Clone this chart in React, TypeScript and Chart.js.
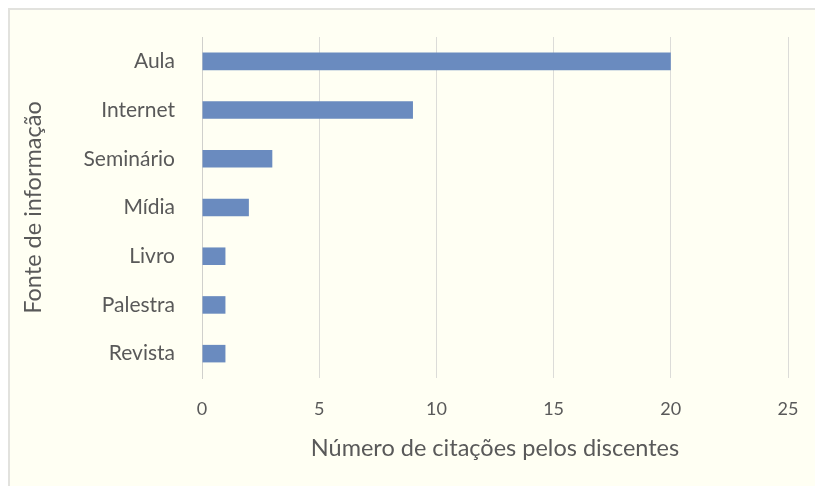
import React, { useEffect, useRef } from "react";
import { Chart, registerables } from "chart.js";

Chart.register(...registerables);

const categories = ["Aula", "Internet", "Seminário", "Mídia", "Livro", "Palestra", "Revista"];
const values = [20, 9, 3, 2, 1, 1, 1];
const xTitle = "Número de citações pelos discentes";
const yTitle = "Fonte de informação";

export default function App() {
  const ref = useRef<HTMLCanvasElement | null>(null);
  useEffect(() => {
    if (!ref.current) return;
    const chart = new Chart(ref.current, {
      type: "bar",
      data: {
        labels: categories,
        datasets: [
          {
            data: values,
            backgroundColor: "#6a8bbf",
            borderWidth: 0,
            barPercentage: 0.36,
            categoryPercentage: 1,
          },
        ],
      },
      options: {
        indexAxis: "y",
        animation: false,
        responsive: false,
        maintainAspectRatio: false,
        layout: { padding: { left: 9, right: 27, top: 27, bottom: 23 } },
        plugins: { legend: { display: false }, tooltip: { enabled: false } },
        scales: {
          x: {
            min: 0,
            max: 25,
            ticks: { stepSize: 5, color: "#595959", font: { family: "Lato", size: 18 }, padding: 20 },
            grid: { color: "#dcdcd8", drawTicks: false, lineWidth: 1 },
            border: { display: false },
            title: {
              display: true,
              text: xTitle,
              color: "#595959",
              font: { family: "Lato", size: 23.5 },
              padding: { top: 14, bottom: 0 },
            },
            afterFit: (s: any) => {
              s.height = 85;
              s.paddingLeft = 0;
              s.paddingRight = 0;
            },
          },
          y: {
            ticks: { color: "#595959", font: { family: "Lato", size: 21 }, padding: 27 },
            grid: { display: false, drawTicks: false },
            border: { display: true, color: "#d0d0cc", width: 1 },
            title: {
              display: true,
              text: yTitle,
              color: "#595959",
              font: { family: "Lato", size: 23.5 },
              padding: 0,
            },
            afterFit: (s: any) => {
              s.width = 183;
              s.paddingTop = 0;
              s.paddingBottom = 0;
            },
          },
        },
      },
    });
    return () => chart.destroy();
  }, []);
  return (
    <div
      style={{
        position: "fixed",
        left: 8,
        top: 8,
        right: 0,
        bottom: 0,
        background: "#fffff3",
        borderLeft: "2px solid #e2e2de",
        borderTop: "2px solid #e2e2de",
      }}
    >
      <canvas ref={ref} width={805} height={476} style={{ display: "block" }} />
    </div>
  );
}
